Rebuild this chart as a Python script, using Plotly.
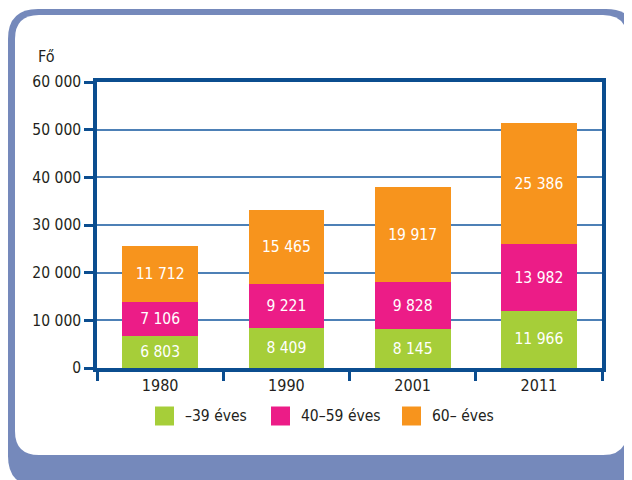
import plotly.graph_objects as go

# ---- data ----
years = ["1980", "1990", "2001", "2011"]
series_names = ["–39 éves", "40–59 éves", "60– éves"]
age_to39 = [6803, 8409, 8145, 11966]
age_40_59 = [7106, 9221, 9828, 13982]
age_60plus = [11712, 15465, 19917, 25386]
y_tick_values = [0, 10000, 20000, 30000, 40000, 50000, 60000]
y_axis_title = "Fő"

series_values = [age_to39, age_40_59, age_60plus]
colors = ["#a6ce39", "#ec1c87", "#f7941d"]

FONT = "DejaVu Sans Condensed, Liberation Sans Narrow, sans-serif"
TXT = "#231f20"
AXIS = "#0b4d8f"
GRID = "#4d80b6"
FRAME = "#7589bb"

W, H = 632, 480
L, R, T, B = 89, 38, 74, 120
PW, PH = W - L - R, H - T - B


def px2paper(px, py):
    return (px - L) / PW, (H - B - py) / PH


def rounded_rect(x0, y0, x1, y1, r):
    def p(x, y):
        a, b = px2paper(x, y)
        return f"{a:.5f},{b:.5f}"
    return (
        f"M {p(x0 + r, y0)} L {p(x1 - r, y0)} Q {p(x1, y0)} {p(x1, y0 + r)} "
        f"L {p(x1, y1 - r)} Q {p(x1, y1)} {p(x1 - r, y1)} "
        f"L {p(x0 + r, y1)} Q {p(x0, y1)} {p(x0, y1 - r)} "
        f"L {p(x0, y0 + r)} Q {p(x0, y0)} {p(x0 + r, y0)} Z"
    )


fig = go.Figure()
for name, vals, col in zip(series_names, series_values, colors):
    fig.add_trace(go.Bar(
        x=years, y=vals, name=name,
        marker=dict(color=col, line=dict(width=0)),
        text=vals, texttemplate="%{y:,}",
        textposition="inside", insidetextanchor="middle", textangle=0,
        textfont=dict(color="white", size=15.5, family=FONT),
        width=0.6, showlegend=False,
    ))

shapes = [
    dict(type="path", xref="paper", yref="paper", layer="below",
         path=rounded_rect(0, 1, 628, 478, 30),
         fillcolor=FRAME, line=dict(width=0)),
    dict(type="path", xref="paper", yref="paper", layer="below",
         path=rounded_rect(7, 7, 619, 447, 24),
         fillcolor="white", line=dict(width=0)),
]

annotations = [
    dict(text=y_axis_title, xref="paper", yref="paper",
         x=px2paper(28, 0)[0], y=px2paper(0, 49)[1],
         xanchor="left", yanchor="middle", showarrow=False,
         font=dict(size=16, color=TXT, family=FONT)),
]

# custom legend
legend_sq_x = [147, 263, 394]
legend_sq_size = 19
legend_y = 408
for name, col, sx in zip(series_names, colors, legend_sq_x):
    a0, b0 = px2paper(sx, legend_y + legend_sq_size / 2)
    a1, b1 = px2paper(sx + legend_sq_size, legend_y - legend_sq_size / 2)
    shapes.append(dict(type="rect", xref="paper", yref="paper",
                       x0=a0, x1=a1, y0=b0, y1=b1,
                       fillcolor=col, line=dict(width=0)))
    tx, ty = px2paper(sx + legend_sq_size + 9, legend_y)
    annotations.append(dict(text=name, xref="paper", yref="paper",
                            x=tx, y=ty, xanchor="left", yanchor="middle",
                            showarrow=False,
                            font=dict(size=15.5, color=TXT, family=FONT)))

fig.update_layout(
    width=W, height=H, autosize=False,
    margin=dict(l=L, r=R, t=T, b=B, pad=0),
    paper_bgcolor="white", plot_bgcolor="rgba(0,0,0,0)",
    barmode="stack", separators=", ",
    font=dict(family=FONT, color=TXT),
    shapes=shapes, annotations=annotations,
    showlegend=False,
    xaxis=dict(
        type="category", tickson="boundaries",
        ticks="outside", ticklen=9, tickwidth=3, tickcolor=AXIS,
        showline=True, linecolor=AXIS, linewidth=3.5, mirror=True,
        showgrid=False, zeroline=False,
        tickfont=dict(size=16, color=TXT, family=FONT),
    ),
    yaxis=dict(
        range=[0, 60000], tickvals=y_tick_values, tickformat=",d",
        ticks="outside", ticklen=9, tickwidth=3, tickcolor=AXIS,
        showline=True, linecolor=AXIS, linewidth=3.5, mirror=True,
        showgrid=True, gridcolor=GRID, gridwidth=1.5, zeroline=False,
        tickfont=dict(size=15.5, color=TXT, family=FONT),
    ),
)

fig.write_html("out.html")
